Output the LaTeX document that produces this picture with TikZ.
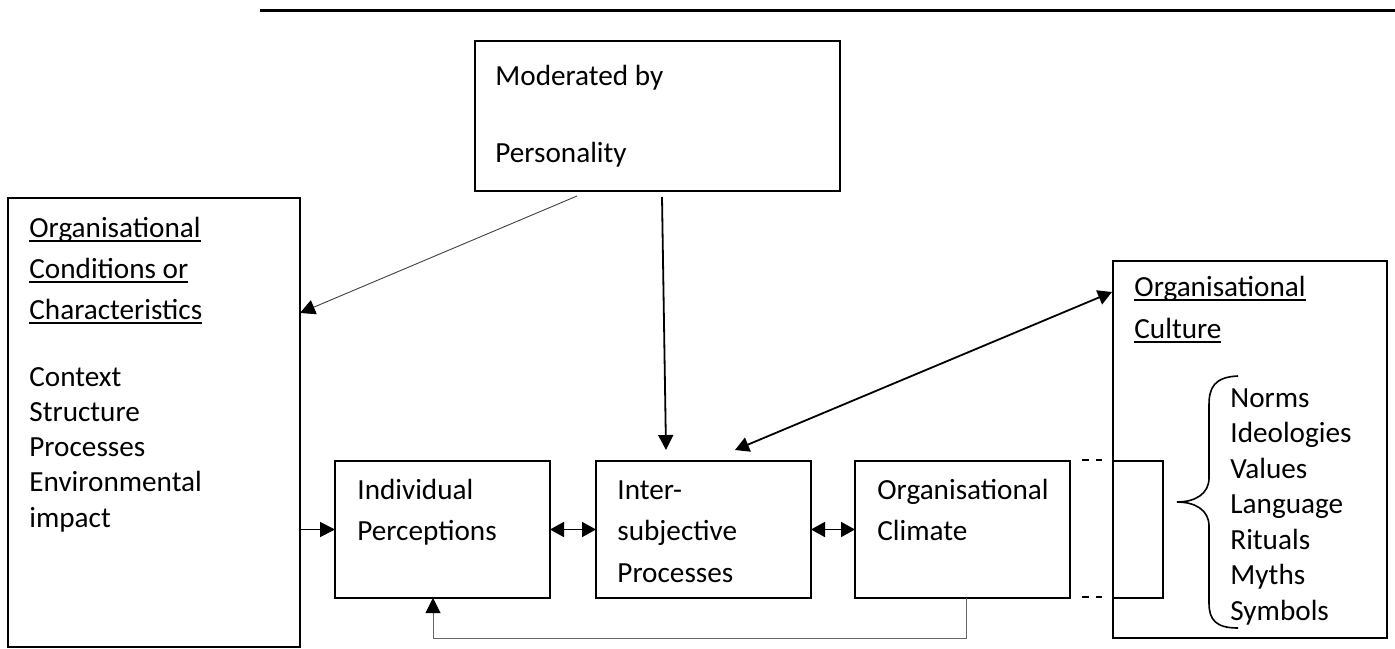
\documentclass[tikz,border=0pt]{standalone}
\usepackage{fontspec}
\setmainfont{Carlito}
\usetikzlibrary{arrows.meta,calc}

\newcommand{\ulword}[1]{\setbox0\hbox{#1}\rlap{\rule[-2.3pt]{\wd0}{0.8pt}}\box0}

\begin{document}
\begin{tikzpicture}[x=0.5pt,y=-0.5pt,
    box/.style={draw,line width=1pt,rectangle,inner sep=0pt,outer sep=0pt,anchor=north west},
    txt/.style={anchor=base west,inner sep=0pt,font=\fontsize{14.6}{17}\selectfont},
    tip/.style={-{Triangle[length=7.5pt,width=7.5pt,color=black]}},
    twotip/.style={{Triangle[length=7pt,width=7.5pt]}-{Triangle[length=7pt,width=7.5pt]}}]
    \useasboundingbox (0,0) rectangle (1395,648);

    \draw[line width=1.5pt] (260,10) -- (1395,10);

    % boxes
    \node[box,minimum width=182.5pt,minimum height=75pt] (pers) at (475,41) {};
    \node[box,minimum width=146pt,minimum height=224.5pt] (cond) at (8,198) {};
    \node[box,minimum width=107.5pt,minimum height=68.5pt] (indiv) at (335,461) {};
    \node[box,minimum width=107.5pt,minimum height=68.5pt] (inter) at (596,461) {};
    \node[box,minimum width=107.5pt,minimum height=68.5pt] (clim) at (855,461) {};
    \node[box,minimum width=137pt,minimum height=188.5pt] (cult) at (1113,261) {};

    % texts
    \node[txt] (pers1) at (495,85) {Moderated by};
    \node[txt] (pers2) at (495,162) {Personality};

    \node[txt] (cond1) at (29,237) {\ulword{Organisational}};
    \node[txt] (cond2) at (29,278) {\ulword{Conditions or}};
    \node[txt] (cond3) at (29,319) {\ulword{Characteristics}};
    \foreach \w [count=\i] in {Context,Structure,Processes,Environmental,impact}
        \node[txt] (condL\i) at (29,{386+35.3*(\i-1)}) {\w};

    \node[txt] (indiv1) at (357,499) {Individual};
    \node[txt] (indiv2) at (357,540) {Perceptions};

    \node[txt] (inter1) at (617,499) {Inter-};
    \node[txt] (inter2) at (617,540) {subjective};
    \node[txt] (inter3) at (617,582) {Processes};

    \node[txt] (clim1) at (877,499) {Organisational};
    \node[txt] (clim2) at (877,540) {Climate};

    \node[txt] (cult1) at (1134,296) {\ulword{Organisational}};
    \node[txt] (cult2) at (1134,338) {\ulword{Culture}};
    \foreach \w [count=\i] in {Norms,Ideologies,Values,Language,Rituals,Myths,Symbols}
        \node[txt] (cultL\i) at (1230,{407+35.5*(\i-1)}) {\w};

    % connectors
    \begin{scope}[every edge/.style={draw,line width=0.9pt}]
        \path [tip] ($(pers.south west)+(187,6)$) edge ($(inter.north west)+(70,-11)$);
        \path [twotip] ($(inter.north west)+(139,-11)$) edge ($(cult.north west)+(-1,31)$);
        \path [tip] (cond.east |- indiv.west) edge (indiv.west);
        \path [twotip] (indiv.east) edge (inter.west);
        \path [twotip] (inter.east) edge (clim.west);
    \end{scope}
    \draw[tip,line width=0.45pt,draw=black!75] ($(pers.south west)+(102,5)$) -- ($(cond.north east)+(0,115)$);
    \draw[tip,line width=0.5pt,draw=black!60] ($(clim.south west)+(111,0)$) -- ++(0,40) -| ($(indiv.south west)+(98,0)$);

    % link to culture
    \draw[line width=0.9pt,dash pattern=on 3.5pt off 3.5pt] ($(clim.north east)+(12,-1)$) -- ++(20,0);
    \draw[line width=0.9pt,dash pattern=on 3.5pt off 3.5pt] ($(clim.south east)+(12,-1)$) -- ++(20,0);
    \draw[line width=0.8pt] (cult.west |- clim.north) -| ($(cult.west |- clim.south)+(50,0)$) -- (cult.west |- clim.south);

    % brace
    \draw[line width=0.8pt] (1238,376) .. controls (1214,377) and (1209,388) .. (1209,405) -- (1209,478)
        .. controls (1209,494) and (1195,502) .. (1177,502)
        .. controls (1195,502) and (1209,510) .. (1209,526) -- (1209,603)
        .. controls (1209,620) and (1216,628) .. (1238,628);
\end{tikzpicture}
\end{document}
